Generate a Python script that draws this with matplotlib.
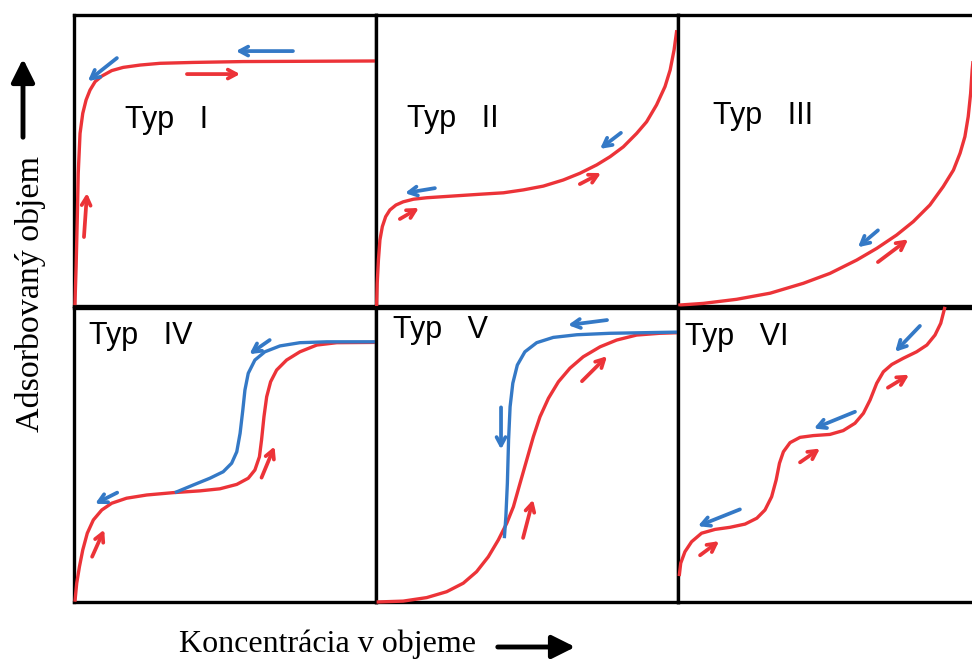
import matplotlib.pyplot as plt
from matplotlib.patches import FancyArrowPatch

# IUPAC adsorption isotherm types, drawn on a relative 0..1 scale in every panel
# (x = concentration in the bulk, y = adsorbed volume)
typ_names = ['Typ   I', 'Typ   II', 'Typ   III', 'Typ   IV', 'Typ   V', 'Typ   VI']

typ1_ads_x = [0.003, 0.007, 0.011, 0.014, 0.020, 0.029, 0.040, 0.053, 0.070, 0.092, 0.125,
              0.163, 0.219, 0.285, 0.395, 0.561, 1.0]
typ1_ads_y = [0.003, 0.135, 0.307, 0.456, 0.593, 0.662, 0.708, 0.742, 0.771, 0.790, 0.809,
              0.820, 0.828, 0.834, 0.837, 0.840, 0.842]

typ2_ads_x = [0.002, 0.004, 0.008, 0.013, 0.021, 0.032, 0.046, 0.066, 0.090, 0.124, 0.168,
              0.256, 0.344, 0.422, 0.488, 0.554, 0.620, 0.675, 0.731, 0.775, 0.819, 0.863,
              0.896, 0.929, 0.957, 0.974, 0.987, 0.996]
typ2_ads_y = [0.0, 0.078, 0.158, 0.227, 0.273, 0.307, 0.330, 0.347, 0.358, 0.367, 0.372,
              0.378, 0.384, 0.389, 0.399, 0.412, 0.433, 0.456, 0.485, 0.513, 0.547, 0.593,
              0.633, 0.691, 0.754, 0.811, 0.880, 0.948]

typ3_ads_x = [0.001, 0.084, 0.194, 0.305, 0.415, 0.503, 0.592, 0.658, 0.724, 0.779, 0.834,
              0.878, 0.912, 0.934, 0.950, 0.961, 0.969, 0.974, 0.985]
typ3_ads_y = [0.003, 0.009, 0.023, 0.044, 0.078, 0.112, 0.158, 0.198, 0.244, 0.290, 0.347,
              0.410, 0.467, 0.525, 0.582, 0.651, 0.731, 0.811, 0.930]

typ4_ads_x = [0.003, 0.009, 0.018, 0.029, 0.044, 0.064, 0.092, 0.125, 0.174, 0.241, 0.329,
              0.417, 0.483, 0.539, 0.577, 0.599, 0.614, 0.621, 0.629, 0.638, 0.651, 0.671,
              0.704, 0.748, 0.804, 0.870, 1.0]
typ4_ads_y = [0.001, 0.064, 0.120, 0.177, 0.234, 0.279, 0.313, 0.336, 0.353, 0.364, 0.372,
              0.378, 0.385, 0.400, 0.421, 0.449, 0.494, 0.551, 0.630, 0.698, 0.749, 0.789,
              0.823, 0.851, 0.874, 0.882, 0.883]
typ4_des_x = [0.334, 0.395, 0.450, 0.494, 0.522, 0.539, 0.550, 0.559, 0.566, 0.577, 0.599,
              0.632, 0.682, 0.748, 0.837, 1.0]
typ4_des_y = [0.372, 0.398, 0.421, 0.443, 0.472, 0.511, 0.574, 0.653, 0.721, 0.778, 0.823,
              0.851, 0.871, 0.882, 0.885, 0.885]

typ5_ads_x = [0.002, 0.090, 0.168, 0.234, 0.289, 0.333, 0.372, 0.405, 0.433, 0.455, 0.477,
              0.499, 0.521, 0.543, 0.571, 0.604, 0.642, 0.686, 0.742, 0.797, 0.863, 0.940, 1.0]
typ5_ads_y = [0.0, 0.003, 0.015, 0.035, 0.064, 0.103, 0.154, 0.211, 0.268, 0.324, 0.404,
              0.483, 0.562, 0.630, 0.693, 0.749, 0.795, 0.834, 0.868, 0.891, 0.908, 0.914, 0.916]
typ5_des_x = [0.425, 0.430, 0.435, 0.439, 0.444, 0.453, 0.468, 0.493, 0.532, 0.587, 0.665,
              0.775, 1.0]
typ5_des_y = [0.217, 0.290, 0.404, 0.551, 0.664, 0.744, 0.806, 0.851, 0.882, 0.900, 0.909,
              0.914, 0.918]

typ6_ads_x = [0.004, 0.009, 0.023, 0.045, 0.078, 0.123, 0.172, 0.222, 0.261, 0.288, 0.310,
              0.325, 0.336, 0.349, 0.371, 0.404, 0.448, 0.503, 0.547, 0.586, 0.614, 0.636,
              0.658, 0.680, 0.708, 0.746, 0.790, 0.824, 0.851, 0.870, 0.884]
typ6_ads_y = [0.088, 0.132, 0.171, 0.205, 0.234, 0.247, 0.254, 0.265, 0.285, 0.313, 0.358,
              0.415, 0.472, 0.511, 0.542, 0.560, 0.566, 0.570, 0.583, 0.608, 0.642, 0.687,
              0.744, 0.783, 0.808, 0.829, 0.851, 0.874, 0.908, 0.948, 1.004]

# direction arrows per panel: (tail, head, kind)
typ1_arrows = [((0.033, 0.237), (0.043, 0.388), 'ads'), ((0.142, 0.852), (0.046, 0.773), 'des'),
               ((0.374, 0.797), (0.55, 0.797), 'ads'), ((0.725, 0.876), (0.536, 0.876), 'des')]
typ2_arrows = [((0.079, 0.299), (0.142, 0.337), 'ads'), ((0.195, 0.405), (0.096, 0.388), 'des'),
               ((0.675, 0.419), (0.745, 0.457), 'ads'), ((0.811, 0.595), (0.742, 0.540), 'des')]
typ3_arrows = [((0.662, 0.26), (0.596, 0.202), 'des'), ((0.662, 0.151), (0.762, 0.229), 'ads')]
typ4_arrows = [((0.06, 0.154), (0.1, 0.246), 'ads'), ((0.143, 0.372), (0.07, 0.334), 'des'),
               ((0.621, 0.423), (0.664, 0.529), 'ads'), ((0.648, 0.891), (0.581, 0.843), 'des')]
typ5_arrows = [((0.765, 0.959), (0.636, 0.942), 'des'), ((0.682, 0.751), (0.765, 0.836), 'ads'),
               ((0.414, 0.662), (0.414, 0.519), 'des'), ((0.487, 0.218), (0.52, 0.348), 'ads')]
typ6_arrows = [((0.073, 0.159), (0.136, 0.207), 'ads'), ((0.205, 0.315), (0.066, 0.258), 'des'),
               ((0.404, 0.475), (0.470, 0.522), 'ads'), ((0.586, 0.647), (0.450, 0.590), 'des'),
               ((0.695, 0.729), (0.765, 0.773), 'ads'), ((0.801, 0.939), (0.719, 0.851), 'des')]

RED = '#EC3338'
BLUE = '#3479C6'
colors = {'ads': RED, 'des': BLUE}

W, H = 972, 659
fig = plt.figure(figsize=(W / 100, H / 100), dpi=100)


def add_panel(left, top, width, height):
    # place an axes by its pixel box (origin at top left of the figure)
    ax = fig.add_axes([left / W, 1 - (top + height) / H, width / W, height / H])
    ax.set_xlim(0, 1)
    ax.set_ylim(0, 1)
    ax.set_xticks([])
    ax.set_yticks([])
    for s in ax.spines.values():
        s.set_linewidth(2.4)
    return ax


def draw_arrows(ax, arrows):
    for tail, head, kind in arrows:
        ax.annotate('', xy=head, xytext=tail, annotation_clip=False,
                    arrowprops=dict(arrowstyle='->,head_length=0.6,head_width=0.32',
                                    color=colors[kind], lw=2.7, shrinkA=0, shrinkB=0))


lefts = [74, 376, 678]
tops = [15, 308]
heights = [291, 294]
axes = []
for r in range(2):
    for c in range(3):
        axes.append(add_panel(lefts[c], tops[r], 302, heights[r]))

curves = [
    [(typ1_ads_x, typ1_ads_y, RED)],
    [(typ2_ads_x, typ2_ads_y, RED)],
    [(typ3_ads_x, typ3_ads_y, RED)],
    [(typ4_ads_x, typ4_ads_y, RED), (typ4_des_x, typ4_des_y, BLUE)],
    [(typ5_ads_x, typ5_ads_y, RED), (typ5_des_x, typ5_des_y, BLUE)],
    [(typ6_ads_x, typ6_ads_y, RED)],
]
arrow_sets = [typ1_arrows, typ2_arrows, typ3_arrows, typ4_arrows, typ5_arrows, typ6_arrows]
label_pos = [(0.169, 0.612), (0.103, 0.615), (0.116, 0.627),
             (0.05, 0.877), (0.056, 0.898), (0.023, 0.875)]

for ax, lines, arrs, name, pos in zip(axes, curves, arrow_sets, typ_names, label_pos):
    for xs, ys, col in lines:
        ax.plot(xs, ys, color=col, lw=2.4, solid_capstyle='butt', solid_joinstyle='round',
                zorder=3, clip_on=False)
    draw_arrows(ax, arrs)
    ax.text(pos[0], pos[1], name, fontsize=22, family='Liberation Sans',
            ha='left', va='baseline')

# axis captions with their direction arrows
fig.text(31 / W, 1 - 294 / H, 'Adsorbovaný objem', rotation=90, family='Liberation Serif',
         fontsize=24.5, ha='center', va='center')
fig.text(179 / W, 7 / H, 'Koncentrácia v objeme', family='Liberation Serif',
         fontsize=23, ha='left', va='baseline')

fig.add_artist(FancyArrowPatch((23 / W, 1 - 140 / H), (23 / W, 1 - 56 / H), transform=fig.transFigure,
                               arrowstyle='-|>,head_length=0.7,head_width=0.35', mutation_scale=20,
                               lw=3.5, color='black'))
fig.add_artist(FancyArrowPatch((495 / W, 1 - 647 / H), (578 / W, 1 - 647 / H), transform=fig.transFigure,
                               arrowstyle='-|>,head_length=0.7,head_width=0.35', mutation_scale=20,
                               lw=3.5, color='black'))

fig.savefig('out.png', dpi=100)
